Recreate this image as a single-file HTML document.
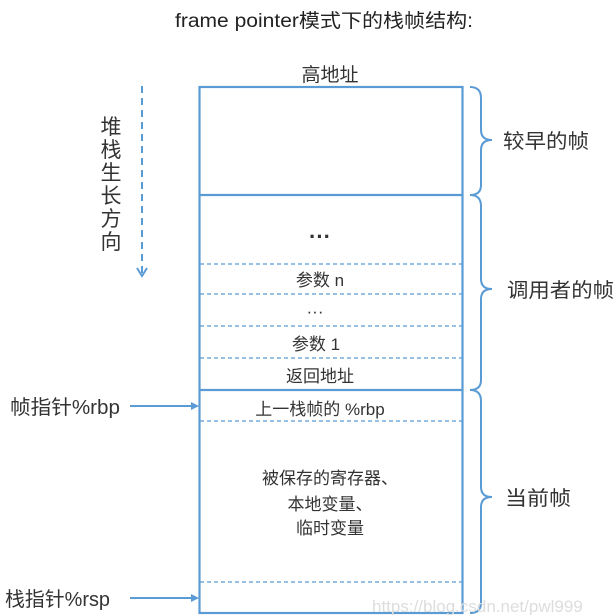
<!DOCTYPE html>
<html><head><meta charset="utf-8"><style>
html,body{margin:0;padding:0;background:#fff;}
svg{display:block;}
text{font-family:"Liberation Sans","Noto Sans CJK SC",sans-serif;fill:#333;}
</style></head><body>
<svg width="614" height="615" viewBox="0 0 614 615" xmlns="http://www.w3.org/2000/svg">
<text x="175" y="27" font-size="19" textLength="298" lengthAdjust="spacingAndGlyphs" style="fill:#222">frame pointer模式下的栈帧结构:</text>
<text x="330" y="81" font-size="19" text-anchor="middle">高地址</text>
<g stroke="#5b9bd5" fill="none">
<rect x="199.5" y="87" width="263" height="526" stroke-width="2.2"/>
<line x1="199" y1="195" x2="463" y2="195" stroke-width="2.2"/>
<line x1="199" y1="390" x2="463" y2="390" stroke-width="2.2"/>
<g stroke-width="1.2" stroke-dasharray="4,3">
<line x1="200" y1="264" x2="462" y2="264"/>
<line x1="200" y1="294" x2="462" y2="294"/>
<line x1="200" y1="326" x2="462" y2="326"/>
<line x1="200" y1="358" x2="462" y2="358"/>
<line x1="200" y1="421" x2="462" y2="421"/>
<line x1="200" y1="582" x2="462" y2="582"/>
</g>
<line x1="142" y1="86" x2="142" y2="274" stroke-width="2" stroke-dasharray="7,5"/>
<polyline points="137,268 142,276 147,268" stroke-width="2"/>
<path d="M470,87 Q481,87 481,98 L481,130 Q481,140 492,140 Q481,140 481,150 L481,185 Q481,195 470,195" stroke-width="2"/>
<path d="M470,195 Q481,195 481,206 L481,279 Q481,289 492,289 Q481,289 481,299 L481,380 Q481,390 470,390" stroke-width="2"/>
<path d="M470,390 Q481,390 481,401 L481,487 Q481,497 492,497 Q481,497 481,507 L481,603 Q481,613 470,613" stroke-width="2"/>
<line x1="130" y1="406" x2="194" y2="406" stroke-width="2"/>
<line x1="130" y1="598" x2="194" y2="598" stroke-width="2"/>
</g>
<polygon points="199,406 191,402 191,410" fill="#5b9bd5"/>
<polygon points="199,598 191,594 191,602" fill="#5b9bd5"/>
<g font-size="21">
<text x="111" y="134" text-anchor="middle">堆</text>
<text x="111" y="157" text-anchor="middle">栈</text>
<text x="111" y="180" text-anchor="middle">生</text>
<text x="111" y="203" text-anchor="middle">长</text>
<text x="111" y="226" text-anchor="middle">方</text>
<text x="111" y="249" text-anchor="middle">向</text>
</g>
<g font-size="20">
<text x="503" y="148" textLength="86" lengthAdjust="spacingAndGlyphs">较早的帧</text>
<text x="507" y="297" textLength="107" lengthAdjust="spacingAndGlyphs">调用者的帧</text>
<text x="505" y="505" textLength="66" lengthAdjust="spacingAndGlyphs">当前帧</text>
<text x="10" y="414" textLength="110" lengthAdjust="spacingAndGlyphs">帧指针%rbp</text>
<text x="5" y="606" textLength="105" lengthAdjust="spacingAndGlyphs">栈指针%rsp</text>
</g>
<g font-size="17" text-anchor="middle">
<text x="320" y="244" font-size="22" font-weight="bold">···</text>
<text x="320" y="286">参数 n</text>
<text x="315" y="317">···</text>
<text x="316" y="350">参数 1</text>
<text x="320" y="382">返回地址</text>
<text x="320" y="415">上一栈帧的 %rbp</text>
<text x="330" y="484">被保存的寄存器、</text>
<text x="330" y="510">本地变量、</text>
<text x="330" y="534">临时变量</text>
</g>
<text x="372" y="612" font-size="17" style="fill:#ddd">https://blog.csdn.net/pwl999</text>
</svg>
</body></html>
